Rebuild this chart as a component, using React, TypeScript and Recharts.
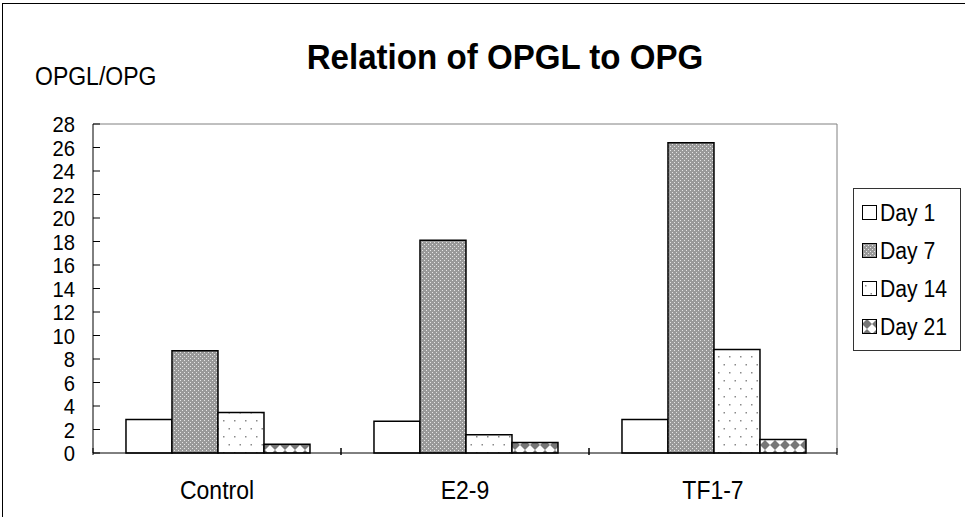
import { BarChart, Bar, XAxis, YAxis, Legend } from "recharts";

const groups = ["Control", "E2-9", "TF1-7"];
const day1 = [2.85, 2.7, 2.85];
const day7 = [8.7, 18.1, 26.4];
const day14 = [3.45, 1.55, 8.8];
const day21 = [0.75, 0.9, 1.15];
const yTicks = [0, 2, 4, 6, 8, 10, 12, 14, 16, 18, 20, 22, 24, 26, 28];

const seriesNames = ["Day 1", "Day 7", "Day 14", "Day 21"];
const fills = ["#ffffff", "url(#pat7)", "url(#pat14)", "url(#pat21)"];

const data = groups.map((g, i) => ({
  name: g,
  d1: day1[i],
  d7: day7[i],
  d14: day14[i],
  d21: day21[i],
}));

const FONT = "Arial, 'Liberation Sans', sans-serif";

// narrow-ish text like the original export
const Narrow = ({ x, y, size, anchor, bold, children }: any) => (
  <text
    transform={`translate(${x},${y}) scale(0.92,1)`}
    textAnchor={anchor || "start"}
    fontSize={size}
    fontWeight={bold ? "bold" : "normal"}
    fontFamily={FONT}
    fill="#000"
  >
    {children}
  </text>
);

const YTick = (props: any) => {
  const { x, y, payload } = props;
  return (
    <g>
      <Narrow x={x - 18} y={y + 8} size={22} anchor="end">
        {payload.value}
      </Narrow>
      <line x1={x} x2={x + 7} y1={y} y2={y} stroke="#000" />
    </g>
  );
};

const XTick = (props: any) => {
  const { x, y, payload } = props;
  const off = payload.offset ?? 124;
  return (
    <g>
      <Narrow x={x} y={y + 44} size={25} anchor="middle">
        {payload.value}
      </Narrow>
      <line x1={x - off} x2={x - off} y1={y} y2={y - 7} stroke="#000" />
      <line x1={x + off} x2={x + off} y1={y} y2={y - 7} stroke="#000" />
    </g>
  );
};

const LegendBox = () => (
  <div
    style={{
      border: "1px solid #333",
      width: 98,
      padding: "5px 0 4px 8px",
      background: "#fff",
      fontFamily: FONT,
      fontSize: 23,
      boxSizing: "content-box",
      whiteSpace: "nowrap",
    }}
  >
    {seriesNames.map((n, i) => (
      <div key={n} style={{ height: 38, display: "flex", alignItems: "center" }}>
        <svg width={16} height={16} style={{ marginRight: 2 }}>
          <rect x={0.5} y={0.5} width={14} height={14} fill={fills[i]} stroke="#000" />
        </svg>
        <span style={{ display: "inline-block", transform: "scaleX(0.92)", transformOrigin: "left" }}>{n}</span>
      </div>
    ))}
  </div>
);

export default function App() {
  return (
    <div
      style={{
        position: "absolute",
        left: 0,
        top: 0,
        width: 965,
        height: 517,
        overflow: "hidden",
        background: "#fff",
      }}
    >
      <svg width={0} height={0} style={{ position: "absolute" }}>
        <defs>
          <pattern id="pat7" width={4} height={4} patternUnits="userSpaceOnUse">
            <rect width={4} height={4} fill="#999999" />
            <rect x={0} y={0} width={1} height={1} fill="#e6e6e6" />
            <rect x={2} y={2} width={1} height={1} fill="#e6e6e6" />
          </pattern>
          <pattern id="pat14" width={11} height={16} patternUnits="userSpaceOnUse">
            <rect width={11} height={16} fill="#fff" />
            <rect x={3} y={4} width={1.5} height={1.5} fill="#8a8a8a" />
            <rect x={8.5} y={12} width={1.5} height={1.5} fill="#8a8a8a" />
          </pattern>
          <pattern id="pat21" width={10} height={10} patternUnits="userSpaceOnUse">
            <rect width={10} height={10} fill="#fff" />
            <polygon points="5,0 10,5 5,10 0,5" fill="#777" />
          </pattern>
        </defs>
      </svg>
      <div
        style={{
          position: "absolute",
          left: 2,
          top: 3,
          width: 1100,
          height: 700,
          borderLeft: "1px solid #000",
          borderTop: "1px solid #000",
        }}
      />
      <BarChart
        width={965}
        height={517}
        data={data}
        margin={{ top: 123, right: 127, left: 0, bottom: 0 }}
        barCategoryGap="13.3%"
        barGap={0}
      >
        <Bar dataKey="d1" name="Day 1" fill={fills[0]} stroke="#000" strokeWidth={1.5} isAnimationActive={false} />
        <Bar dataKey="d7" name="Day 7" fill={fills[1]} stroke="#000" strokeWidth={1.5} isAnimationActive={false} />
        <Bar dataKey="d14" name="Day 14" fill={fills[2]} stroke="#000" strokeWidth={1.5} isAnimationActive={false} />
        <Bar dataKey="d21" name="Day 21" fill={fills[3]} stroke="#000" strokeWidth={1.5} isAnimationActive={false} />
        <XAxis
          xAxisId="top"
          orientation="top"
          dataKey="name"
          height={1}
          tick={false}
          tickLine={false}
          axisLine={{ stroke: "#808080" }}
        />
        <YAxis
          yAxisId="right"
          orientation="right"
          domain={[0, 28]}
          ticks={yTicks}
          width={1}
          tick={false}
          tickLine={false}
          axisLine={{ stroke: "#808080" }}
        />
        <XAxis
          dataKey="name"
          height={64}
          tickSize={0}
          tickLine={false}
          tick={<XTick />}
          axisLine={{ stroke: "#000" }}
        />
        <YAxis
          domain={[0, 28]}
          ticks={yTicks}
          interval={0}
          width={93}
          tickSize={0}
          tickMargin={0}
          tickLine={false}
          tick={<YTick />}
          axisLine={{ stroke: "#000" }}
        />
        <Legend
          layout="vertical"
          align="center"
          verticalAlign="middle"
          content={<LegendBox />}
          wrapperStyle={{ left: 853, top: 188, width: "auto", height: "auto" }}
        />
      </BarChart>
      <svg
        width={965}
        height={517}
        style={{ position: "absolute", left: 0, top: 0, pointerEvents: "none" }}
      >
        <Narrow x={505} y={69} size={36} anchor="middle" bold>
          Relation of OPGL to OPG
        </Narrow>
        <Narrow x={35} y={85} size={25}>
          OPGL/OPG
        </Narrow>
      </svg>
    </div>
  );
}
